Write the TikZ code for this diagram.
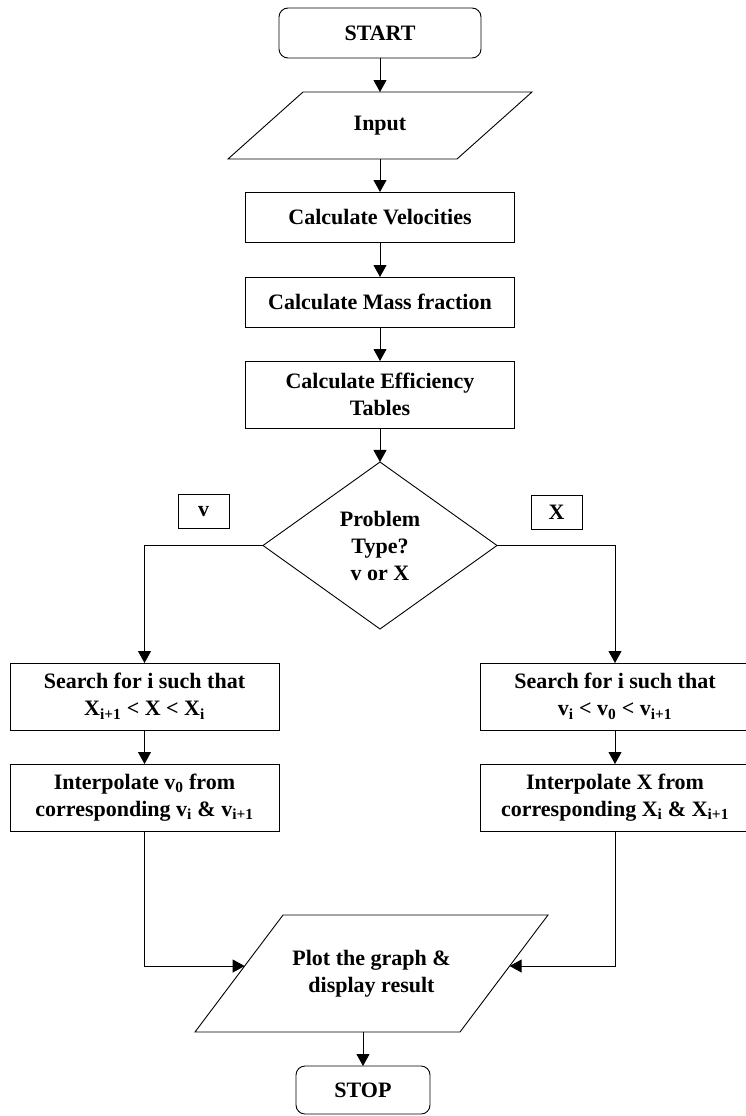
\documentclass[tikz,border=0pt]{standalone}
\usepackage{fontspec}
\setmainfont{Liberation Serif}
\usetikzlibrary{shapes.geometric,arrows.meta,calc}
\tikzset{
  base/.style={draw, line width=0.9pt, inner sep=2pt, outer sep=0pt, align=center,
    font=\bfseries\fontsize{22}{27}\selectfont},
  procbox/.style={base, rectangle, minimum width=269pt},
  termbox/.style={base, rectangle, rounded corners=9pt},
  iobox/.style={base, draw=none, rectangle},
  decbox/.style={base, diamond, aspect=1.4, inner sep=0pt, minimum width=234pt, minimum height=167pt},
  tagbox/.style={base, minimum width=51pt, minimum height=34pt},
  edge/.style={line width=0.9pt},
  arr/.style={-{Triangle[length=12pt,width=13pt]}, line width=0.9pt}
}
\begin{document}
\begin{tikzpicture}[x=1pt,y=-1pt]
  \useasboundingbox (0,0) rectangle (745,1116);
  % main column
  \node[termbox, minimum width=202pt, minimum height=50pt] (start) at (380,33) {START};
  \node[iobox, minimum width=229pt, minimum height=67pt] (input) at (380,125.5) {Input};
  \draw[edge] ([xshift=37.5pt]input.north west) -- ([xshift=37.5pt]input.north east)
    -- ([xshift=-37.5pt]input.south east) -- ([xshift=-37.5pt]input.south west) -- cycle;
  \node[procbox, minimum height=50pt] (vel) at (380,217) {Calculate Velocities};
  \node[procbox, minimum height=50pt] (mass) at (380,302) {Calculate Mass fraction};
  \node[procbox, minimum height=67pt] (eff) at (380,394.5) {Calculate Efficiency\\Tables};
  \node[decbox] (type) at (380,545.5) {Problem\\Type?\\v or X};
  % branch tags
  \node[tagbox] (tagv) at (203.5,511.5) {v};
  \node[tagbox] (tagx) at (556.5,512) {X};
  % left branch
  \node[procbox, minimum height=67pt] (lsearch) at (144.5,696.5)
    {Search for i such that\\X\textsubscript{i+1} < X < X\textsubscript{i}};
  \node[procbox, minimum height=67pt] (linterp) at (144.5,797.5)
    {Interpolate v\textsubscript{0} from\\corresponding v\textsubscript{i} \& v\textsubscript{i+1}};
  % right branch
  \node[procbox, minimum height=67pt] (rsearch) at (615,696.5)
    {Search for i such that\\v\textsubscript{i} < v\textsubscript{0} < v\textsubscript{i+1}};
  \node[procbox, minimum height=67pt] (rinterp) at (615,797.5)
    {Interpolate X from\\corresponding X\textsubscript{i} \& X\textsubscript{i+1}};
  % output
  \node[iobox, minimum width=265pt, minimum height=117pt] (plot) at (371.5,973.5)
    {Plot the graph \&\\display result};
  \coordinate (plot-tl) at ([xshift=44pt]plot.north west);
  \coordinate (plot-tr) at ([xshift=44pt]plot.north east);
  \coordinate (plot-br) at ([xshift=-44pt]plot.south east);
  \coordinate (plot-bl) at ([xshift=-44pt]plot.south west);
  \draw[edge] (plot-tl) -- (plot-tr) -- (plot-br) -- (plot-bl) -- cycle;
  \node[termbox, minimum width=134pt, minimum height=48pt] (stop) at (363,1090) {STOP};

  % connectors
  \draw[arr] (start) -- (input);
  \draw[arr] (input) -- (vel);
  \draw[arr] (vel) -- (mass);
  \draw[arr] (mass) -- (eff);
  \draw[arr] (eff) -- (type);
  \draw[arr] (type.west) -| (lsearch.north);
  \draw[arr] (type.east) -| (rsearch.north);
  \draw[arr] (lsearch) -- (linterp);
  \draw[arr] (rsearch) -- (rinterp);
  \draw[arr] (linterp.south) |- ($(plot-tl)!0.436!(plot-bl)$);
  \draw[arr] (rinterp.south) |- ($(plot-tr)!0.436!(plot-br)$);
  \draw[arr] (plot.south -| stop.north) -- (stop.north);
\end{tikzpicture}
\end{document}
